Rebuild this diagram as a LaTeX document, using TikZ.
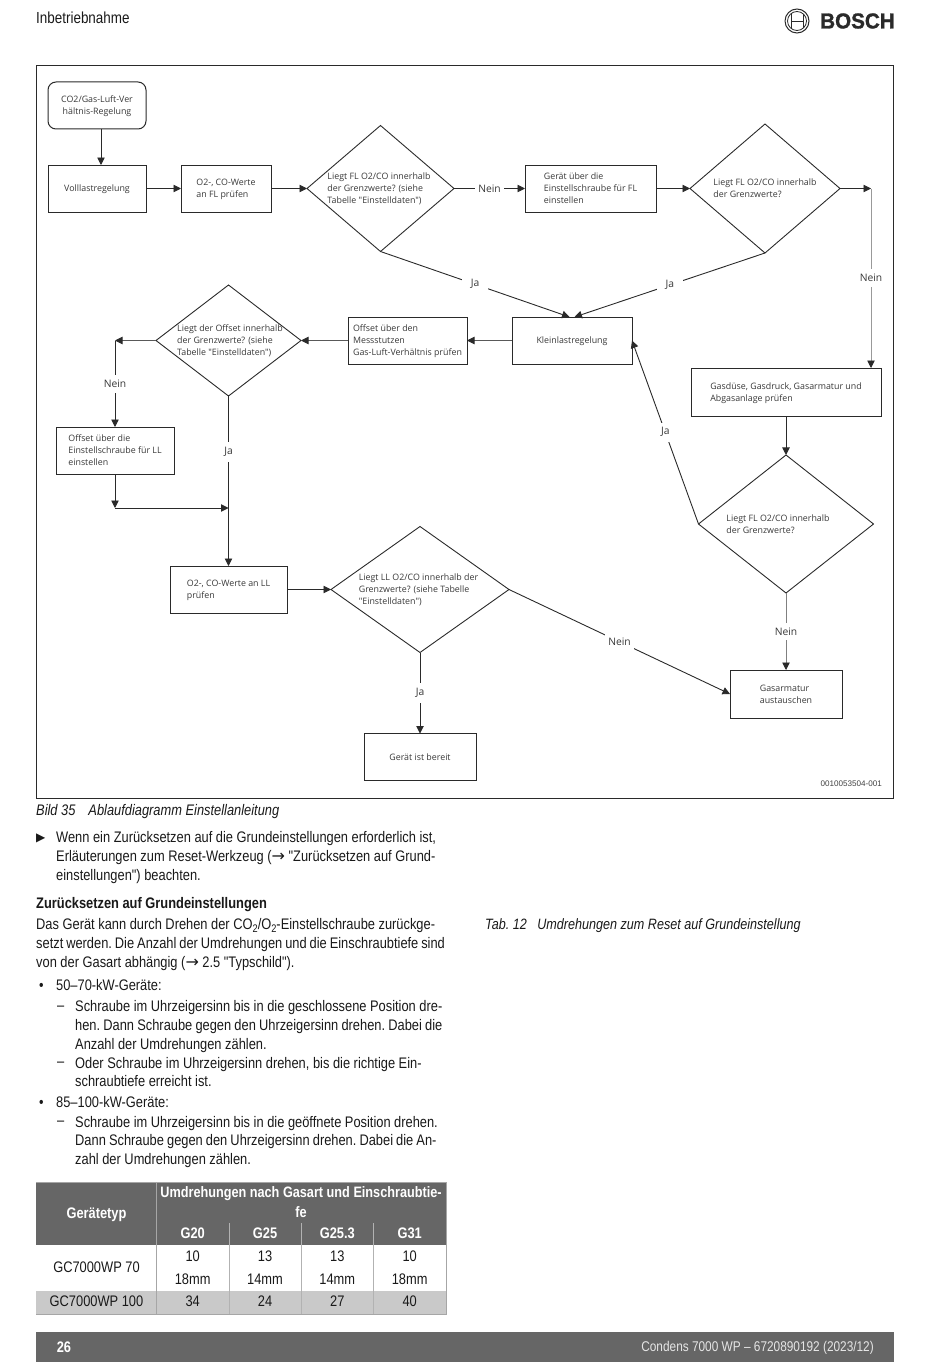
\documentclass[tikz,border=0pt]{standalone}
\usepackage{fontspec}
\usetikzlibrary{positioning, calc, shapes.geometric, arrows.meta}
\setmainfont{Liberation Sans}
\newfontfamily\flowfont{Open Sans}
\newfontfamily\bodyfont[FakeStretch=0.84]{Liberation Sans}
\newfontfamily\logofont[FakeStretch=0.96, BoldFeatures={FakeBold=1.3}]{Liberation Sans}
\newfontfamily\symfont{DejaVu Sans}
\definecolor{pagegrey}{HTML}{666666}
\definecolor{rowgrey}{HTML}{C9C9C9}
\definecolor{inkgrey}{HTML}{2A2A2A}
\newcommand{\dtext}[2][0pt]{\makebox[0pt]{\hspace*{#1}\raisebox{-3pt}[0pt][0pt]{\begin{tabular}{@{}l@{}}#2\end{tabular}}}}
\newcommand{\lowtwo}{\raisebox{-2.5pt}{\fontsize{11}{11}\selectfont 2}}
\newcommand{\textarrow}{{\symfont\fontsize{16}{16}\selectfont →}}
\tikzset{
	stepbox/.style={rectangle, draw=inkgrey, line width=1pt, align=left, inner sep=0pt, outer sep=0pt, text=black!78, text depth=0pt,
		font=\flowfont\fontsize{8.85}{12}\selectfont},
	startbox/.style={stepbox, rounded corners=8pt, align=center},
	decision/.style={diamond, draw=inkgrey, line width=.9pt, inner sep=0pt, outer sep=0pt, aspect=1, text=black!78,
		font=\flowfont\fontsize{8.85}{12}\selectfont},
	flow/.style={draw=inkgrey, line width=.9pt, -{Triangle[length=7.5pt,width=7.5pt,color=inkgrey]}},
	neinlabel/.style={fill=white, inner xsep=3pt, inner ysep=5pt, text=black!78, font=\flowfont\fontsize{10.3}{12}\selectfont},
	jalabel/.style={neinlabel, inner xsep=9pt},
	bodytext/.style={anchor=west, align=left, inner sep=0pt, yshift=-2pt, text=black!90,
		font=\bodyfont\frenchspacing\fontsize{15.3}{18.7}\selectfont},
	headcell/.style={align=center, inner sep=0pt, text=white, font=\bodyfont\bfseries\fontsize{15.3}{20}\selectfont},
	tablecell/.style={align=center, inner sep=0pt, text=black!90, font=\bodyfont\fontsize{15.3}{18.7}\selectfont},
	twoline/.style={tablecell, font=\bodyfont\fontsize{15.3}{23}\selectfont}
}
\begin{document}
\begin{tikzpicture}[x=1pt, y=-1pt]
	\useasboundingbox (0,0) rectangle (950,1370);
	% Page head
	\node (pagehead) [bodytext, font=\bodyfont\fontsize{16}{18}\selectfont] at (36,16) {Inbetriebnahme};
	\node (logoring) [circle, draw=inkgrey, line width=1pt, minimum size=24pt, inner sep=0pt] at (797,21) {};
	\node (logoinner) [circle, draw=inkgrey, line width=.8pt, minimum size=19pt, inner sep=0pt] at (797,21) {};
	\draw [inkgrey, line width=.8pt] (791,14) -- (791,28) (803,14) -- (803,28) (791,21) -- (803,21);
	\node (logoword) [anchor=west, inner sep=0pt, text=inkgrey, font=\logofont\bfseries\fontsize{21.5}{22}\selectfont] at (820,21) {BOSCH};
	% Frame
	\node (frame) [rectangle, draw=inkgrey, line width=1pt, minimum width=857pt, minimum height=732pt, inner sep=0pt] at (464.5,432) {};
	\node (imgcode) [anchor=east, inner sep=0pt, text=black!75, font=\fontsize{8.1}{10}\selectfont] at (882,784) {0010053504-001};
	% Define the nodes
	\node (start) [startbox, minimum width=98pt, minimum height=47pt] at (97,105.5) {CO2/Gas-Luft-Ver\\hältnis-Regelung};
	\node (volllast) [stepbox, minimum width=98pt, minimum height=47pt, below=36pt of start] {Volllastregelung};
	\node (flcheck) [stepbox, minimum width=90pt, minimum height=47pt, right=35pt of volllast] {O2-, CO-Werte\\an FL prüfen};
	\node (flrange) [decision, minimum width=147pt, minimum height=126pt, right=36pt of flcheck] {\dtext[-3pt]{Liegt FL O2/CO innerhalb\\der Grenzwerte? (siehe\\Tabelle "Einstelldaten")}};
	\node (flscrew) [stepbox, minimum width=131pt, minimum height=47pt, right=71pt of flrange] {Gerät über die\\Einstellschraube für FL\\einstellen};
	\node (flrecheck) [decision, minimum width=150pt, minimum height=129pt, right=34pt of flscrew] {\dtext{Liegt FL O2/CO innerhalb\\der Grenzwerte?}};
	\node (klein) [stepbox, minimum width=120pt, minimum height=47pt] at (572,340.5) {Kleinlastregelung};
	\node (offsetcheck) [stepbox, minimum width=119pt, minimum height=47pt, left=45pt of klein] {Offset über den\\Messstutzen\\Gas-Luft-Verhältnis prüfen};
	\node (offsetrange) [decision, minimum width=145pt, minimum height=111pt, left=47pt of offsetcheck] {\dtext[3pt]{Liegt der Offset innerhalb\\der Grenzwerte? (siehe\\Tabelle "Einstelldaten")}};
	\node (offsetscrew) [stepbox, minimum width=118pt, minimum height=47pt] at (115,450.5) {Offset über die\\Einstellschraube für LL\\einstellen};
	\node (llcheck) [stepbox, minimum width=117pt, minimum height=47pt] at (228.5,589.5) {O2-, CO-Werte an LL\\prüfen};
	\node (llrange) [decision, minimum width=178pt, minimum height=126pt, right=44pt of llcheck] {\dtext[-3pt]{Liegt LL O2/CO innerhalb der\\Grenzwerte? (siehe Tabelle\\"Einstelldaten")}};
	\node (ready) [stepbox, minimum width=112pt, minimum height=47pt, below=81pt of llrange] {Gerät ist bereit};
	\node (gasparts) [stepbox, minimum width=190pt, minimum height=48pt] at (786,392) {Gasdüse, Gasdruck, Gasarmatur und\\Abgasanlage prüfen};
	\node (flfinal) [decision, minimum width=175pt, minimum height=138pt, below=39pt of gasparts] {\dtext[-16pt]{Liegt FL O2/CO innerhalb\\der Grenzwerte?}};
	\node (swap) [stepbox, minimum width=112pt, minimum height=48pt] at (786,694) {Gasarmatur\\austauschen};
	% Corners and free ends
	\coordinate (flcorner) at (871,188.5);
	\coordinate (gasin) at (flcorner |- gasparts.north);
	\coordinate (offsetcorner) at (offsetscrew.north |- offsetrange.west);
	\coordinate (offsetdrop) at ($(offsetscrew.south)+(0,34)$);
	\coordinate (offsetjoin) at (offsetrange.south |- offsetdrop);
	\coordinate (kleinleft) at ($(klein.north)+(-2.5,0)$);
	\coordinate (kleinright) at ($(klein.north)+(2.5,0)$);
	\coordinate (startout) at ($(start.south)+(4,0)$);
	\coordinate (vollin) at ($(volllast.north)+(4,0)$);
	% Connect the nodes
	\draw [flow] (startout) -- (vollin);
	\draw [flow] (volllast) -- (flcheck);
	\draw [flow] (flcheck) -- (flrange);
	\draw [flow] (flrange) -- node [neinlabel] {Nein} (flscrew);
	\draw [flow] (flscrew) -- (flrecheck);
	\draw [flow] (flrecheck) -- (flcorner);
	\draw [flow, draw=black!40] (flcorner) -- node [neinlabel] {Nein} (gasin);
	\draw [flow] (flrange.south) -- node [jalabel] {Ja} (kleinleft);
	\draw [flow] (flrecheck.south) -- node [jalabel] {Ja} (kleinright);
	\draw [flow, draw=black!65] (klein) -- (offsetcheck);
	\draw [flow, draw=black!65] (offsetcheck) -- (offsetrange);
	\draw [flow, draw=black!65] (offsetrange) -- (offsetcorner);
	\draw [flow] (offsetcorner) -- node [neinlabel] {Nein} (offsetscrew);
	\draw [flow] (offsetscrew) -- (offsetdrop);
	\draw [flow] (offsetdrop) -- (offsetjoin);
	\draw [flow] (offsetrange) -- node [jalabel, pos=.33] {Ja} (llcheck);
	\draw [flow] (llcheck) -- (llrange);
	\draw [flow] (llrange) -- node [jalabel] {Ja} (ready);
	\draw [flow] (llrange.east) -- node [neinlabel] {Nein} (swap.west);
	\draw [flow] (gasparts) -- (flfinal);
	\draw [flow, draw=black!50] (flfinal) -- node [neinlabel] {Nein} (swap);
	\draw [flow] (flfinal.west) -- node [jalabel] {Ja} (klein.east);
	% Text below the frame
	\node (figcaption) [bodytext] at (36,810) {\itshape Bild 35\hspace*{.85em}Ablaufdiagramm Einstellanleitung};
	\node (hintmark) [bodytext] at (36,836) {\symfont\fontsize{12}{12}\selectfont ▶};
	\node (hinttext) [bodytext] at (56,855.5) {Wenn ein Zurücksetzen auf die Grundeinstellungen erforderlich ist,\\Erläuterungen zum Reset-Werkzeug (\textarrow{} "Zurücksetzen auf Grund-\\einstellungen") beachten.};
	\node (resethead) [bodytext, font=\bodyfont\bfseries\fontsize{15.3}{18.7}\selectfont] at (36,903) {Zurücksetzen auf Grundeinstellungen};
	\node (resettext) [bodytext] at (36,942.5) {Das Gerät kann durch Drehen der CO\lowtwo/O\lowtwo-Einstellschraube zurückge-\\{\spaceskip=2.95pt setzt werden. Die Anzahl der Umdrehungen und die Einschraubtiefe sind}\\von der Gasart abhängig (\textarrow{} 2.5 "Typschild").};
	\node (tabcaption) [bodytext, font=\bodyfont\frenchspacing\fontsize{15}{18}\selectfont] at (485,924) {\itshape Tab. 12\hspace*{.7em}Umdrehungen zum Reset auf Grundeinstellung};
	\node (bulletone) [bodytext] at (39,985) {•};
	\node (itemone) [bodytext] at (56,983) {50–70-kW-Geräte:};
	\node (dashone) [bodytext] at (57,1006) {–};
	\node (subone) [bodytext] at (75,1024.5) {Schraube im Uhrzeigersinn bis in die geschlossene Position dre-\\{\spaceskip=3.2pt hen. Dann Schraube gegen den Uhrzeigersinn drehen. Dabei die}\\Anzahl der Umdrehungen zählen.};
	\node (dashtwo) [bodytext] at (57,1062) {–};
	\node (subtwo) [bodytext] at (75,1070) {Oder Schraube im Uhrzeigersinn drehen, bis die richtige Ein-\\schraubtiefe erreicht ist.};
	\node (bullettwo) [bodytext] at (39,1102) {•};
	\node (itemtwo) [bodytext] at (56,1100) {85–100-kW-Geräte:};
	\node (dashthree) [bodytext] at (57,1121) {–};
	\node (subthree) [bodytext] at (75,1140) {Schraube im Uhrzeigersinn bis in die geöffnete Position drehen.\\{\spaceskip=3.1pt Dann Schraube gegen den Uhrzeigersinn drehen. Dabei die An-}\\zahl der Umdrehungen zählen.};
	% Table
	\fill [pagegrey] (36,1182) rectangle (446,1245);
	\fill [rowgrey] (36,1291) rectangle (446,1314);
	\draw [black!35, line width=1pt] (36,1182) -- (446,1182) -- (446,1314) -- (36,1314);
	\draw [black!35, line width=1pt] (156.5,1182) -- (156.5,1314);
	\draw [black!30, line width=.8pt] (229,1223) -- (229,1314) (301.3,1223) -- (301.3,1314) (373.5,1223) -- (373.5,1314);
	\node (typehead) [headcell] at (96.5,1214.5) {Gerätetyp};
	\node (turnhead) [headcell, font=\bodyfont\bfseries\fontsize{15.1}{20}\selectfont] at (301,1202) {Umdrehungen nach Gasart und Einschraubtie-\\fe};
	\node (gtwenty) [headcell] at (192.7,1233) {G20};
	\node (gtwofive) [headcell] at (265,1233) {G25};
	\node (gtwofivethree) [headcell] at (337.3,1233) {G25.3};
	\node (gthirtyone) [headcell] at (409.7,1233) {G31};
	\node (rowseventy) [tablecell] at (96.5,1267) {GC7000WP 70};
	\node (seventya) [twoline] at (192.7,1268) {10\\18mm};
	\node (seventyb) [twoline] at (265,1268) {13\\14mm};
	\node (seventyc) [twoline] at (337.3,1268) {13\\14mm};
	\node (seventyd) [twoline] at (409.7,1268) {10\\18mm};
	\node (rowhundred) [tablecell] at (96.5,1301) {GC7000WP 100};
	\node (hundreda) [tablecell] at (192.7,1301) {34};
	\node (hundredb) [tablecell] at (265,1301) {24};
	\node (hundredc) [tablecell] at (337.3,1301) {27};
	\node (hundredd) [tablecell] at (409.7,1301) {40};
	% Page foot
	\fill [pagegrey] (36,1332) rectangle (894,1362);
	\node (pagenumber) [headcell] at (64,1347) {26};
	\node (footline) [anchor=east, inner sep=0pt, text=black!10, font=\bodyfont\fontsize{14.1}{16}\selectfont] at (874,1348) {Condens 7000 WP – 6720890192 (2023/12)};
\end{tikzpicture}
\end{document}
